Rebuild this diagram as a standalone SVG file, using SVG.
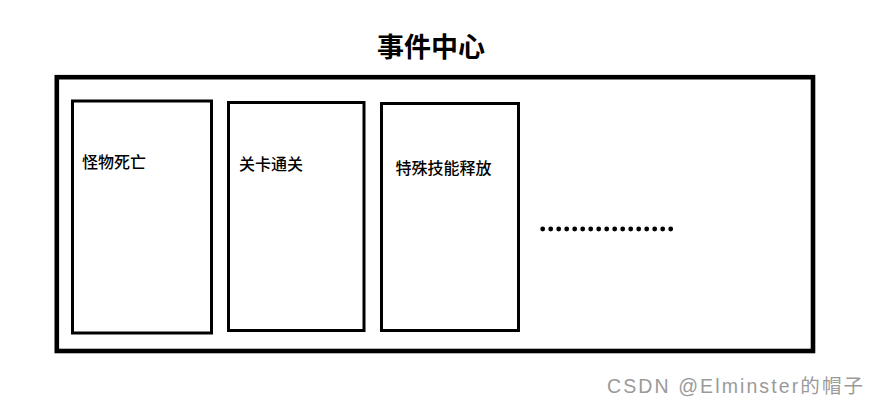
<svg xmlns="http://www.w3.org/2000/svg" width="879" height="406" viewBox="0 0 879 406">
<style>
.box{fill:#fff;stroke:#000;stroke-width:3}
.lbl{font-family:"Noto Sans CJK SC","Noto Sans",sans-serif;font-size:16px;font-weight:500;fill:#000}
.dot{fill:#000}
</style>
<rect width="879" height="406" fill="#fff"/>
<g id="title"><text x="377" y="57" font-family="'Noto Sans CJK SC',sans-serif" font-size="27" font-weight="bold">事件中心</text></g>
<g id="center"><rect x="56.8" y="77.2" width="756.2" height="273.8" fill="#fff" stroke="#000" stroke-width="4.6"/></g>
<g id="n1"><rect class="box" x="72.5" y="101" width="139" height="232"/><text class="lbl" x="82" y="168">怪物死亡</text></g>
<g id="n2"><rect class="box" x="228.5" y="102.5" width="135.5" height="228"/><text class="lbl" x="239" y="170">关卡通关</text></g>
<g id="n3"><rect class="box" x="381.5" y="103.5" width="137" height="227"/><text class="lbl" x="395.5" y="174">特殊技能释放</text></g>
<g id="more">
<circle class="dot" cx="542.7" cy="229" r="2.4"/><circle class="dot" cx="550.7" cy="229" r="2.4"/><circle class="dot" cx="558.7" cy="229" r="2.4"/><circle class="dot" cx="566.7" cy="229" r="2.4"/><circle class="dot" cx="574.7" cy="229" r="2.4"/><circle class="dot" cx="582.7" cy="229" r="2.4"/><circle class="dot" cx="590.7" cy="229" r="2.4"/><circle class="dot" cx="598.7" cy="229" r="2.4"/><circle class="dot" cx="606.7" cy="229" r="2.4"/><circle class="dot" cx="614.7" cy="229" r="2.4"/><circle class="dot" cx="622.7" cy="229" r="2.4"/><circle class="dot" cx="630.7" cy="229" r="2.4"/><circle class="dot" cx="638.7" cy="229" r="2.4"/><circle class="dot" cx="646.7" cy="229" r="2.4"/><circle class="dot" cx="654.7" cy="229" r="2.4"/><circle class="dot" cx="662.7" cy="229" r="2.4"/><circle class="dot" cx="670.7" cy="229" r="2.4"/>
</g>
<g id="connectors"></g>
<text x="607" y="392.5" font-family="'Liberation Sans','Noto Sans CJK SC',sans-serif" font-size="19.5" fill="#9a9a9a" textLength="256" lengthAdjust="spacing">CSDN @Elminster的帽子</text>
</svg>
